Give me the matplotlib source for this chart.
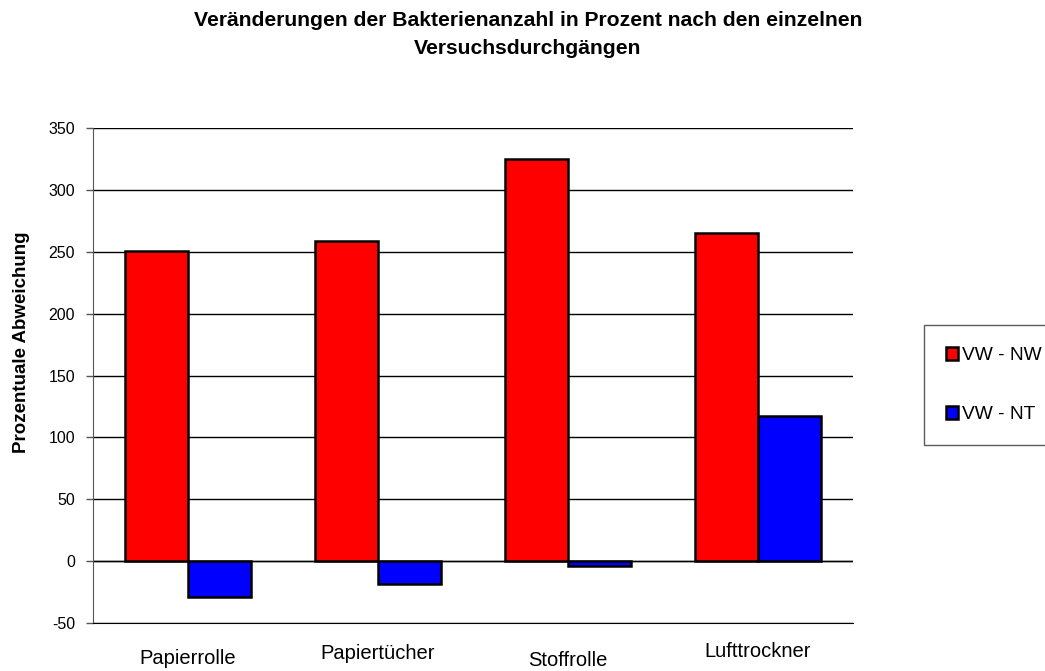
import matplotlib
matplotlib.use("Agg")
import matplotlib.pyplot as plt
import numpy as np

plt.rcParams['font.family'] = ['Liberation Sans', 'DejaVu Sans']
plt.rcParams['axes.unicode_minus'] = False

# data
categories = ['Papierrolle', 'Papiertücher', 'Stoffrolle', 'Lufttrockner']
vw_nw = [251, 259, 325, 265]
vw_nt = [-29, -18.5, -4, 117]
label_offsets = [0.0, 5.0, -2.0, 7.0]   # Excel put the labels at slightly different heights

fig = plt.figure(figsize=(10.45, 6.71), dpi=100)
ax = fig.add_axes([0.089, 0.0715, 0.7273, 0.7377])

x = np.arange(len(categories))
w = 1 / 3
ax.bar(x - w / 2, vw_nw, w, color='#ff0000', edgecolor='black', lw=1.8, label='VW - NW', zorder=3)
ax.bar(x + w / 2, vw_nt, w, color='#0000ff', edgecolor='black', lw=1.8, label='VW - NT', zorder=3)

ax.set_xlim(-0.5, len(categories) - 0.5)
ax.set_ylim(-50, 350)
ax.set_yticks(np.arange(-50, 351, 50))
ax.yaxis.grid(True, color='black', lw=1)
ax.axhline(0, color='black', lw=1, zorder=2)
for s in ['top', 'right']:
    ax.spines[s].set_visible(False)
ax.spines['bottom'].set_color('black')
ax.spines['left'].set_color('#555555')
ax.tick_params(axis='y', length=5, width=1, color='#555555', labelsize=11.5, pad=8)
ax.tick_params(axis='x', length=0, labelbottom=False)

for i, name in enumerate(categories):
    ax.annotate(name, xy=(x[i], 0), xycoords=('data', 'axes fraction'),
                xytext=(0, -35 + label_offsets[i]), textcoords='offset pixels',
                ha='center', va='center', fontsize=14.5)

ax.set_ylabel('Prozentuale Abweichung', fontsize=13.5, fontweight='bold')
ax.yaxis.set_label_coords(-0.083, 0.568)
fig.suptitle('Veränderungen der Bakterienanzahl in Prozent nach den einzelnen\nVersuchsdurchgängen',
             x=0.505, y=0.983, fontsize=15.2, fontweight='bold', linespacing=1.55)

leg = fig.legend(loc='upper left', bbox_to_anchor=(0.884, 0.516), fontsize=13.8,
                 frameon=True, fancybox=False, edgecolor='#333333', handlelength=0.65,
                 handleheight=0.65, handletextpad=0.2, labelspacing=2.2, borderpad=1.15,
                 borderaxespad=0)
leg.get_frame().set_linewidth(1)

fig.savefig('out.png', dpi=100)
